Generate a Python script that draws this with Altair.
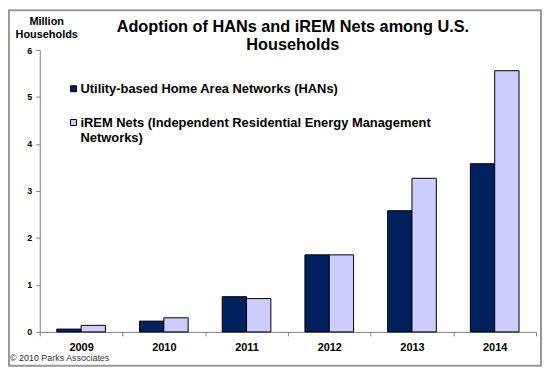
import altair as alt
import pandas as pd

years = ["2009", "2010", "2011", "2012", "2013", "2014"]
series = ["Utility-based Home Area Networks (HANs)",
          "iREM Nets (Independent Residential Energy Management Networks)"]
han = [0.06, 0.23, 0.75, 1.64, 2.58, 3.58]
irem = [0.14, 0.30, 0.71, 1.64, 3.27, 5.56]
colors = ["#00215E", "#CCCCFF"]
title_lines = ["Adoption of HANs and iREM Nets among U.S.", "Households"]
ytitle_lines = ["Million", "Households"]
legend_lines = [["Utility-based Home Area Networks (HANs)"],
                ["iREM Nets (Independent Residential Energy Management", "Networks)"]]
credit = "\u00a9 2010 Parks Associates"

FONT = "Liberation Sans"

rows = []
for i, y in enumerate(years):
    rows.append({"year": y, "series": series[0], "value": han[i]})
    rows.append({"year": y, "series": series[1], "value": irem[i]})
df = pd.DataFrame(rows)

color_scale = alt.Scale(domain=series, range=colors)

bars = alt.Chart(df).mark_bar(stroke="#000", strokeWidth=1).encode(
    x=alt.X("year:N", sort=years,
            scale=alt.Scale(paddingInner=0, paddingOuter=0),
            axis=alt.Axis(title=None, labelAngle=0, labelFont=FONT, labelFontSize=11,
                          labelFontWeight="bold", labelColor="#000", tickBand="extent",
                          tickSize=4, tickColor="#808080", domainColor="#808080",
                          labelPadding=6)),
    xOffset=alt.XOffset("series:N", sort=series,
                        scale=alt.Scale(paddingOuter=0.7, paddingInner=0)),
    y=alt.Y("value:Q", scale=alt.Scale(domain=[0, 6], nice=False),
            axis=alt.Axis(title=None, values=[0, 1, 2, 3, 4, 5, 6], grid=False,
                          labelFont=FONT, labelFontSize=9, labelFontWeight="bold",
                          labelColor="#000", tickSize=4, tickColor="#808080",
                          domainColor="#808080", labelPadding=4)),
    color=alt.Color("series:N", scale=color_scale, legend=None),
)

title_df = pd.DataFrame({"t": [title_lines]})
title = alt.Chart(title_df).mark_text(font=FONT, fontSize=16.4, fontWeight="bold",
                                      align="center", baseline="alphabetic",
                                      lineHeight=18, color="#000").encode(
    x=alt.value(255), y=alt.value(-18), text="t")

ytitle_df = pd.DataFrame({"t": [ytitle_lines]})
ytitle = alt.Chart(ytitle_df).mark_text(font=FONT, fontSize=11, fontWeight="bold",
                                        align="center", baseline="alphabetic",
                                        lineHeight=13, color="#000").encode(
    x=alt.value(7), y=alt.value(-25), text="t")

leg_df = pd.DataFrame({"series": series, "t": legend_lines})
leg_sq1 = alt.Chart(leg_df).transform_filter(alt.datum.series == series[0]).mark_square(
    size=36, stroke="#000", strokeWidth=1, opacity=1).encode(
    x=alt.value(34), y=alt.value(39), color=alt.Color("series:N", scale=color_scale, legend=None))
leg_sq2 = alt.Chart(leg_df).transform_filter(alt.datum.series == series[1]).mark_square(
    size=36, stroke="#000", strokeWidth=1, opacity=1).encode(
    x=alt.value(34), y=alt.value(73), color=alt.Color("series:N", scale=color_scale, legend=None))
leg_t1 = alt.Chart(leg_df).transform_filter(alt.datum.series == series[0]).mark_text(
    font=FONT, fontSize=13, fontWeight="bold", align="left", baseline="alphabetic",
    lineHeight=15, color="#000").encode(x=alt.value(41), y=alt.value(43.5), text="t")
leg_t2 = alt.Chart(leg_df).transform_filter(alt.datum.series == series[1]).mark_text(
    font=FONT, fontSize=13, fontWeight="bold", align="left", baseline="alphabetic",
    lineHeight=15, color="#000").encode(x=alt.value(41), y=alt.value(77.5), text="t")

credit_df = pd.DataFrame({"t": [credit]})
credit_txt = alt.Chart(credit_df).mark_text(font=FONT, fontSize=9, align="left",
                                            baseline="alphabetic", color="#333").encode(
    x=alt.value(-30), y=alt.value(313), text="t")

frame_df = pd.DataFrame({"k": [1]})
frame = alt.Chart(frame_df).mark_rect(fill=None, stroke="#999999", strokeWidth=2).encode(
    x=alt.value(-31), x2=alt.value(505), y=alt.value(-40), y2=alt.value(318))

chart = alt.layer(bars, title, ytitle, leg_sq1, leg_sq2, leg_t1, leg_t2, credit_txt, frame).properties(
    width=500, height=284,
    padding={"left": 32, "top": 41, "right": 6, "bottom": 35},
    autosize="none",
    background="white",
).configure_view(stroke=None)

chart.save("out.html", embed_options={"renderer": "svg", "actions": False})
